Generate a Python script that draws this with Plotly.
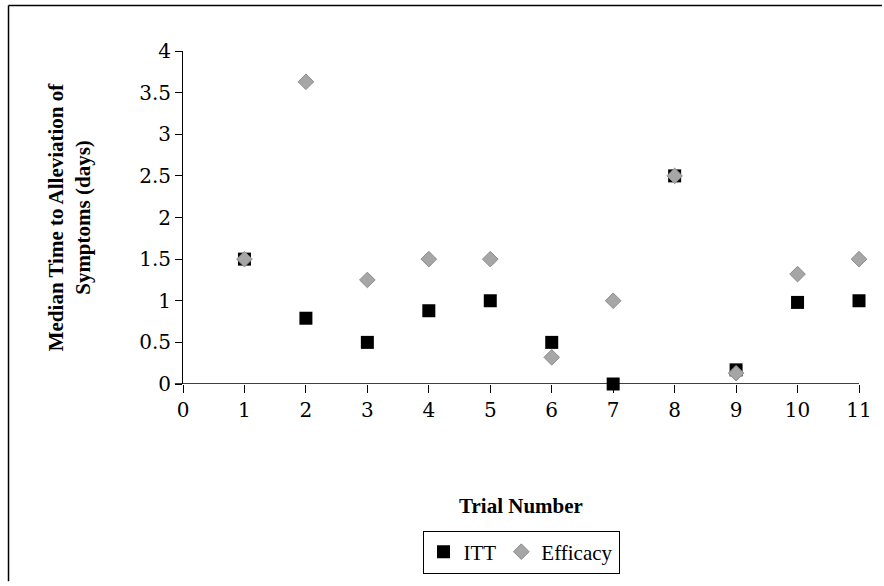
import plotly.graph_objects as go

trials = [1, 2, 3, 4, 5, 6, 7, 8, 9, 10, 11]
itt = [1.5, 0.79, 0.5, 0.88, 1.0, 0.5, 0.0, 2.5, 0.17, 0.98, 1.0]
efficacy = [1.5, 3.63, 1.25, 1.5, 1.5, 0.32, 1.0, 2.5, 0.13, 1.32, 1.5]
x_ticks = list(range(0, 12))
y_ticks = [0, 0.5, 1, 1.5, 2, 2.5, 3, 3.5, 4]

FONT = "DejaVu Serif"
TFONT = "Liberation Serif"

fig = go.Figure()
fig.add_trace(go.Scatter(
    x=trials, y=itt, mode="markers", name="ITT",
    marker=dict(symbol="square", size=13, color="#000000"),
    cliponaxis=False,
))
fig.add_trace(go.Scatter(
    x=trials, y=efficacy, mode="markers", name="Efficacy",
    marker=dict(symbol="diamond", size=12, color="#a6a6a6",
                line=dict(color="#8c8c8c", width=1)),
    cliponaxis=False,
))

fig.update_layout(
    width=884, height=586,
    margin=dict(l=183, r=23, t=51, b=199),
    paper_bgcolor="white", plot_bgcolor="white",
    font=dict(family=FONT, color="black", size=19),
    showlegend=True,
    legend=dict(
        orientation="h", x=0.5, xanchor="center", y=-0.44, yanchor="top",
        bordercolor="black", borderwidth=1,
        font=dict(family=TFONT, size=21, color="black"),
        itemwidth=30, tracegroupgap=0,
    ),
    xaxis=dict(
        range=[0, 11], tickvals=x_ticks, ticktext=[str(v) for v in x_ticks],
        showgrid=False, zeroline=False, showline=False,
        ticks="outside", ticklen=8, tickcolor="black", tickwidth=1,
        tickfont=dict(family=FONT, size=20), anchor="free", position=0,
        title=dict(text="<b>Trial Number</b>",
                   font=dict(family=TFONT, size=21), standoff=77),
    ),
    yaxis=dict(
        range=[0, 4], tickvals=y_ticks, ticktext=[f"{v:g}" for v in y_ticks],
        showgrid=False, zeroline=False, showline=True, linecolor="black", linewidth=1,
        ticks="outside", ticklen=7, tickcolor="black", tickwidth=1,
        tickfont=dict(family=FONT, size=20),
        title=dict(text="<b>Median Time to Alleviation of<br>Symptoms (days)</b>",
                   font=dict(family=TFONT, size=21), standoff=42),
    ),
)

# x-axis line drawn at y=0 (extends slightly left like the original)
fig.add_shape(type="line", xref="paper", yref="y", x0=-0.012, x1=1, y0=0, y1=0,
              line=dict(color="black", width=1.5))
# outer chart border (left and top edges)
top = (51 - 5) / 336 + 1
left = (8 - 183) / 678
fig.add_shape(type="line", xref="paper", yref="paper",
              x0=left, x1=left, y0=-199 / 336, y1=top,
              line=dict(color="black", width=1.5))
fig.add_shape(type="line", xref="paper", yref="paper",
              x0=left, x1=(884 - 183) / 678, y0=top, y1=top,
              line=dict(color="black", width=1.5))

fig.write_html("out.html")
